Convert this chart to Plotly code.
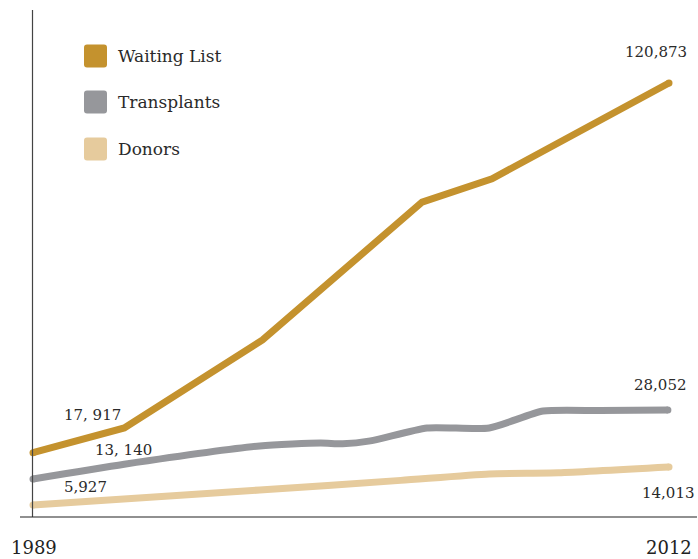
import plotly.graph_objects as go

# Data
wl_years = [1989, 1992.3, 1997.3, 2003.07, 2005.6, 2012]
wl_values = [17917, 24800, 49300, 87700, 94200, 120873]

tx_years = [1989, 1992.3, 1997.2, 1999.4, 2000.2, 2001.2, 2003.25, 2005.5, 2007.45, 2009.5, 2011.96]
tx_values = [10600, 14700, 19800, 20600, 20400, 21200, 24800, 24800, 29500, 29650, 29800]

dn_years = [1989, 1997.2, 2002.3, 2005.5, 2008.0, 2012]
dn_values = [3340, 7520, 10200, 12000, 12300, 13900]

series_names = ["Waiting List", "Transplants", "Donors"]
colors = ["#C4922E", "#96979B", "#E6CB9D"]

labels = [
    ("120,873", 689, 52, "right"),
    ("28,052", 689, 385, "right"),
    ("14,013", 697, 493, "right"),
    ("17, 917", 62, 415, "left"),
    ("13, 140", 93, 450, "left"),
    ("5,927", 62, 487, "left"),
]
year_labels = [("1989", 9, 547, "left"), ("2012", 694, 547, "right")]

W, H = 698, 559
px_per_year = (669 - 33) / 23.0
px_per_unit = (517 - 83) / 120873.0
x0 = 1989 - 33 / px_per_year
x1 = x0 + W / px_per_year
y0 = -(H - 517) / px_per_unit
y1 = 517 / px_per_unit

FONT = "DejaVu Serif"

fig = go.Figure()
for name, xs, ys, c in [
    (series_names[0], wl_years, wl_values, colors[0]),
    (series_names[1], tx_years, tx_values, colors[1]),
    (series_names[2], dn_years, dn_values, colors[2]),
]:
    shape = "spline" if name != "Waiting List" else "linear"
    fig.add_trace(go.Scatter(
        x=xs, y=ys, mode="lines", name=name,
        line=dict(color=c, width=7, shape=shape, smoothing=0.6),
        hoverinfo="skip", showlegend=False))
    # round end caps
    fig.add_trace(go.Scatter(
        x=[xs[0], xs[-1]], y=[ys[0], ys[-1]], mode="markers",
        marker=dict(color=c, size=7, line=dict(width=0)),
        hoverinfo="skip", showlegend=False))

def px(x):
    return x / W

def py(y):
    return 1 - y / H

shapes = [
    dict(type="line", xref="paper", yref="paper", x0=px(32.5), x1=px(32.5),
         y0=py(10), y1=py(517), line=dict(color="#444444", width=1.2)),
    dict(type="line", xref="paper", yref="paper", x0=px(20), x1=px(697),
         y0=py(517), y1=py(517), line=dict(color="#222222", width=1.2)),
]

annotations = []
leg_y = [56, 102, 149]
for name, c, yc in zip(series_names, colors, leg_y):
    l, r, t, b, rr = 84, 107, yc - 11.5, yc + 11.5, 3
    path = (f"M {px(l+rr)} {py(t)} L {px(r-rr)} {py(t)} Q {px(r)} {py(t)} {px(r)} {py(t+rr)} "
            f"L {px(r)} {py(b-rr)} Q {px(r)} {py(b)} {px(r-rr)} {py(b)} "
            f"L {px(l+rr)} {py(b)} Q {px(l)} {py(b)} {px(l)} {py(b-rr)} "
            f"L {px(l)} {py(t+rr)} Q {px(l)} {py(t)} {px(l+rr)} {py(t)} Z")
    shapes.append(dict(type="path", xref="paper", yref="paper", path=path,
                       fillcolor=c, line=dict(width=0)))
    annotations.append(dict(xref="paper", yref="paper", x=px(116), y=py(yc),
                            text=name, showarrow=False, xanchor="left", yanchor="middle",
                            font=dict(family=FONT, size=17, color="#2a2a2a")))

for txt, x, y, anc in labels:
    annotations.append(dict(xref="paper", yref="paper", x=px(x), y=py(y), text=txt,
                            showarrow=False, xanchor=anc, yanchor="middle",
                            font=dict(family=FONT, size=15, color="#2a2a2a")))
for txt, x, y, anc in year_labels:
    annotations.append(dict(xref="paper", yref="paper", x=px(x), y=py(y), text=txt,
                            showarrow=False, xanchor=anc, yanchor="middle",
                            font=dict(family=FONT, size=18, color="#222222")))

fig.update_layout(
    width=W, height=H, margin=dict(l=0, r=0, t=0, b=0),
    paper_bgcolor="white", plot_bgcolor="white",
    xaxis=dict(range=[x0, x1], visible=False, fixedrange=True),
    yaxis=dict(range=[y0, y1], visible=False, fixedrange=True),
    shapes=shapes, annotations=annotations, showlegend=False,
)

fig.write_html("out.html")
